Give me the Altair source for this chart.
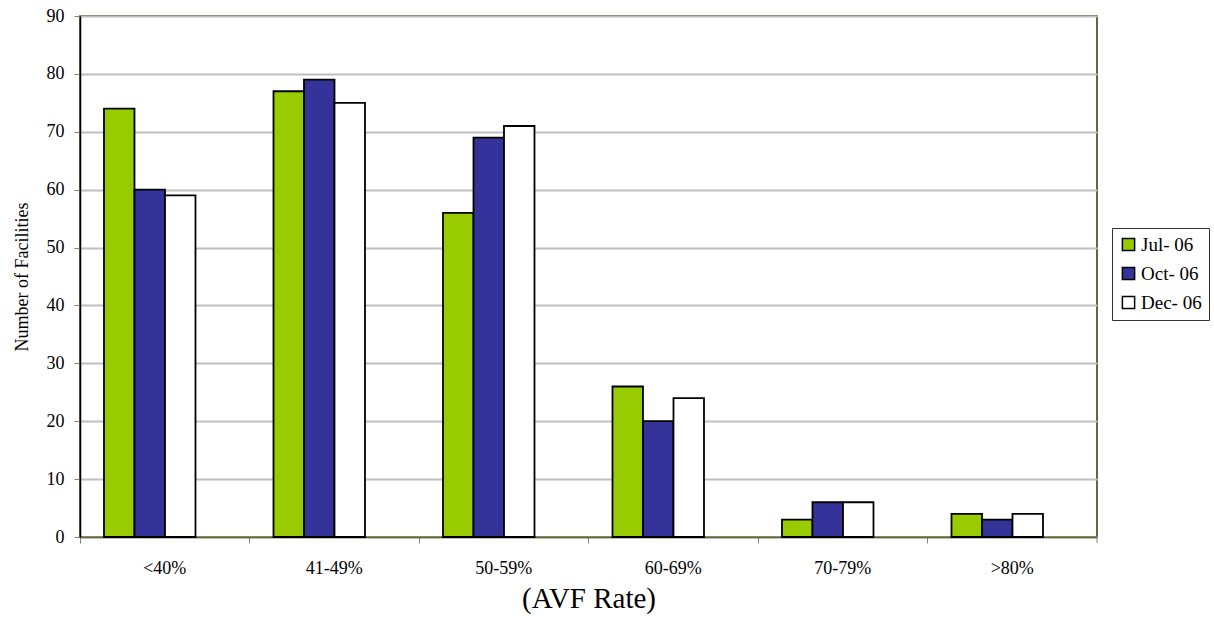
import altair as alt
import pandas as pd

# Facility counts per AVF rate band, for three survey months
rate_bands = ["<40%", "41-49%", "50-59%", "60-69%", "70-79%", ">80%"]
periods = ["Jul- 06", "Oct- 06", "Dec- 06"]
jul_06 = [74, 77, 56, 26, 3, 4]
oct_06 = [60, 79, 69, 20, 6, 3]
dec_06 = [59, 75, 71, 24, 6, 4]
period_colors = ["#99cc00", "#333399", "#ffffff"]
y_ticks = list(range(0, 91, 10))

rows = []
for period, values in zip(periods, [jul_06, oct_06, dec_06]):
    for band, v in zip(rate_bands, values):
        rows.append({"band": band, "period": period, "count": v})
df = pd.DataFrame(rows)

SERIF = "Liberation Serif"
W, H = 1017, 521

# an empty slot after the three bars keeps each cluster left of its band centre
offset_slots = periods + ["_gap"]

bars = alt.Chart(df).mark_bar(stroke="black", strokeWidth=1.8).encode(
    x=alt.X(
        "band:N",
        sort=rate_bands,
        scale=alt.Scale(paddingInner=0, paddingOuter=0),
        axis=alt.Axis(
            title="(AVF Rate)",
            labelAngle=0,
            bandPosition=0,
            tickSize=6,
            tickColor="#808080",
            domainColor="#666633",
            domainWidth=1.5,
            labelPadding=16,
            labelFont=SERIF,
            labelFontSize=18,
            labelColor="#000000",
            titleFont=SERIF,
            titleFontSize=29,
            titleFontWeight="normal",
            titleColor="#000000",
            titlePadding=7,
            grid=False,
        ),
    ),
    xOffset=alt.XOffset(
        "period:N",
        scale=alt.Scale(domain=offset_slots, paddingInner=0, paddingOuter=0.779, align=0.505),
    ),
    y=alt.Y(
        "count:Q",
        scale=alt.Scale(domain=[0, 90], nice=False),
        axis=alt.Axis(
            title="Number of Facilities",
            values=y_ticks,
            tickSize=6,
            tickColor="#808080",
            domainColor="#000000",
            domainWidth=1.5,
            labelPadding=10,
            labelFont=SERIF,
            labelFontSize=18,
            labelColor="#000000",
            titleFont=SERIF,
            titleFontSize=18,
            titleFontWeight="normal",
            titleColor="#000000",
            titlePadding=15,
            gridColor="#c0c0c0",
            gridWidth=2,
        ),
    ),
    color=alt.Color(
        "period:N",
        scale=alt.Scale(domain=periods, range=period_colors),
        legend=alt.Legend(
            title=None,
            orient="none",
            legendX=1032,
            legendY=212,
            symbolType="square",
            symbolSize=150,
            symbolStrokeColor="black",
            symbolStrokeWidth=1.5,
            symbolOpacity=1,
            labelFont=SERIF,
            labelFontSize=19,
            labelColor="#000000",
            labelOffset=3,
            rowPadding=9,
            padding=7,
            strokeColor="#333333",
            fillColor="#ffffff",
        ),
    ),
)

# closing tick at the right end of the category axis
end_tick = alt.Chart(pd.DataFrame({"t": [0]})).mark_rule(color="#808080", strokeWidth=1).encode(
    x=alt.value(W), y=alt.value(H), y2=alt.value(H + 6)
)

chart = (
    alt.layer(bars, end_tick)
    .properties(
        width=W,
        height=H,
        autosize=alt.AutoSizeParams(type="none"),
        padding={"left": 80, "top": 16, "right": 117, "bottom": 106},
        background="#ffffff",
    )
    .configure_view(stroke="#333300", strokeWidth=1.5)
)

chart.save("out.html", embed_options={"renderer": "svg", "actions": False})
